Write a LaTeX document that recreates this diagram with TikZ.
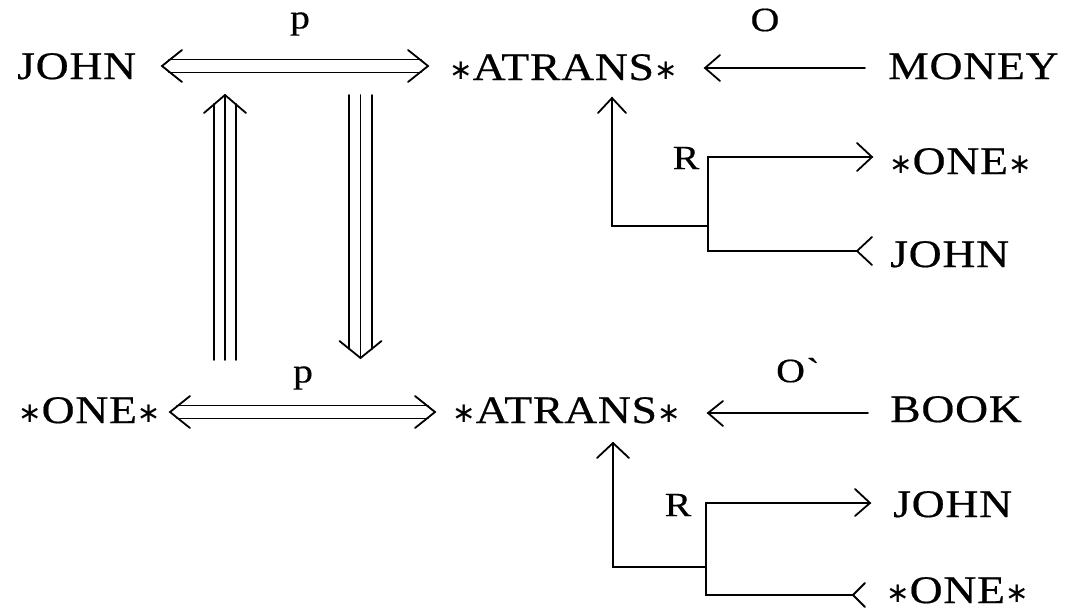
\documentclass[tikz,border=0pt]{standalone}
\usepackage{fontspec}
\setmainfont{Liberation Serif}[FakeStretch=1.17,LetterSpace=2,FakeBold=0.5]
\newfontfamily\symf{DejaVu Sans}
\usetikzlibrary{calc}
\newcommand\st{{\symf\fontsize{28}{28}\selectfont\raisebox{1pt}{∗}}}
\newcommand\chev[3]{\draw[ln] ($(#1)+(#2)$) -- (#1) -- ($(#1)+(#3)$);}
\begin{document}
\begin{tikzpicture}[x=1pt,y=-1pt,
  ln/.style={line width=1.8pt, line cap=round, line join=miter},
  lbl/.style={font=\fontsize{39}{44}\selectfont, inner sep=0pt, anchor=base west},
  sm/.style={font=\fontsize{34}{36}\selectfont, inner sep=0pt}]
\useasboundingbox[fill=white] (0,0) rectangle (1067,610);
% concept nodes
\node[lbl] (john1) at (17,79) {JOHN};
\node[lbl] (atrans1) at (449,80) {\st ATRANS\st};
\node[lbl] (money) at (888,79) {MONEY};
\node[lbl] (one1) at (889,174) {\st ONE\st};
\node[lbl] (john2) at (890,267) {JOHN};
\node[lbl] (one2) at (18,423) {\st ONE\st};
\node[lbl] (atrans2) at (452,423) {\st ATRANS\st};
\node[lbl] (book) at (890,422) {BOOK};
\node[lbl] (john3) at (893,517) {JOHN};
\node[lbl] (one3) at (886,603) {\st ONE\st};
% labels
\node[sm] (p1) at (300,24) {p};
\node[sm] (o1) at (765,20) {O};
\node[sm] (p2) at (303,378) {p};
\node[sm,anchor=west] (o2) at (776,373) {O\kern4pt\raisebox{-6pt}{\`{}}};
\node[sm] (r1) at (686,158) {R};
\node[sm] (r2) at (678,505) {R};
% ---- row 1 double arrow
\coordinate (d1l) at (162,66); \coordinate (d1r) at (428,66);
\draw[ln] ($(d1l)+(7,-6.5)$) -- ($(d1r)+(-7,-6.5)$);
\draw[ln] ($(d1l)+(7,6.5)$) -- ($(d1r)+(-7,6.5)$);
\chev{d1l}{20,-16}{20,16}
\chev{d1r}{-20,-16}{-20,16}
% ---- row 2 double arrow
\coordinate (d2l) at (170,412); \coordinate (d2r) at (435,412);
\draw[ln] ($(d2l)+(7,-6.5)$) -- ($(d2r)+(-7,-6.5)$);
\draw[ln] ($(d2l)+(7,6.5)$) -- ($(d2r)+(-7,6.5)$);
\chev{d2l}{20,-16}{20,16}
\chev{d2r}{-20,-16}{-20,16}
% ---- triple up arrow
\coordinate (tu) at (225,95); \coordinate (tub) at (225,360);
\draw[ln] (tub) -- (tu);
\draw[ln] ($(tub)+(-11,0)$) -- ($(tu)+(-11,9)$);
\draw[ln] ($(tub)+(11,0)$) -- ($(tu)+(11,9)$);
\chev{tu}{-21,18}{21,18}
% ---- triple down arrow
\coordinate (td) at (360.5,358); \coordinate (tdt) at (360.5,95);
\draw[ln] (tdt) -- (td);
\draw[ln] ($(tdt)+(-11.5,0)$) -- ($(td)+(-11.5,-9)$);
\draw[ln] ($(tdt)+(11.5,0)$) -- ($(td)+(11.5,-9)$);
\chev{td}{-21,-17}{21,-17}
% ---- O arrows
\coordinate (o1h) at (705,68); \coordinate (o1t) at (865,68);
\draw[ln] (o1t) -- (o1h); \chev{o1h}{15,-13}{15,13}
\coordinate (o2h) at (708,413); \coordinate (o2t) at (868,413);
\draw[ln] (o2t) -- (o2h); \chev{o2h}{15,-12}{15,13}
% ---- recipient 1
\coordinate (v1h) at (612,98); \coordinate (v1c) at (612,226);
\coordinate (b1c) at (708,226); \coordinate (b1t) at (708,157); \coordinate (b1b) at (708,251);
\coordinate (a1t) at (872,157); \coordinate (a1b) at (857,251);
\draw[ln] (b1c) -- (v1c) -- (v1h); \chev{v1h}{-14,15}{14,15}
\draw[ln] (a1t) -- (b1t) -- (b1b) -- (a1b);
\chev{a1t}{-15,-14}{-15,14}
\chev{a1b}{15,-14}{15,14}
% ---- recipient 2
\coordinate (v2h) at (613,443); \coordinate (v2c) at (613,567);
\coordinate (b2c) at (706,567); \coordinate (b2t) at (706,503); \coordinate (b2b) at (706,595);
\coordinate (a2t) at (870,503); \coordinate (a2b) at (853,595);
\draw[ln] (b2c) -- (v2c) -- (v2h); \chev{v2h}{-16,15}{16,15}
\draw[ln] (a2t) -- (b2t) -- (b2b) -- (a2b);
\chev{a2t}{-15,-14}{-15,13}
\chev{a2b}{12,-12}{12,12}
\end{tikzpicture}
\end{document}
